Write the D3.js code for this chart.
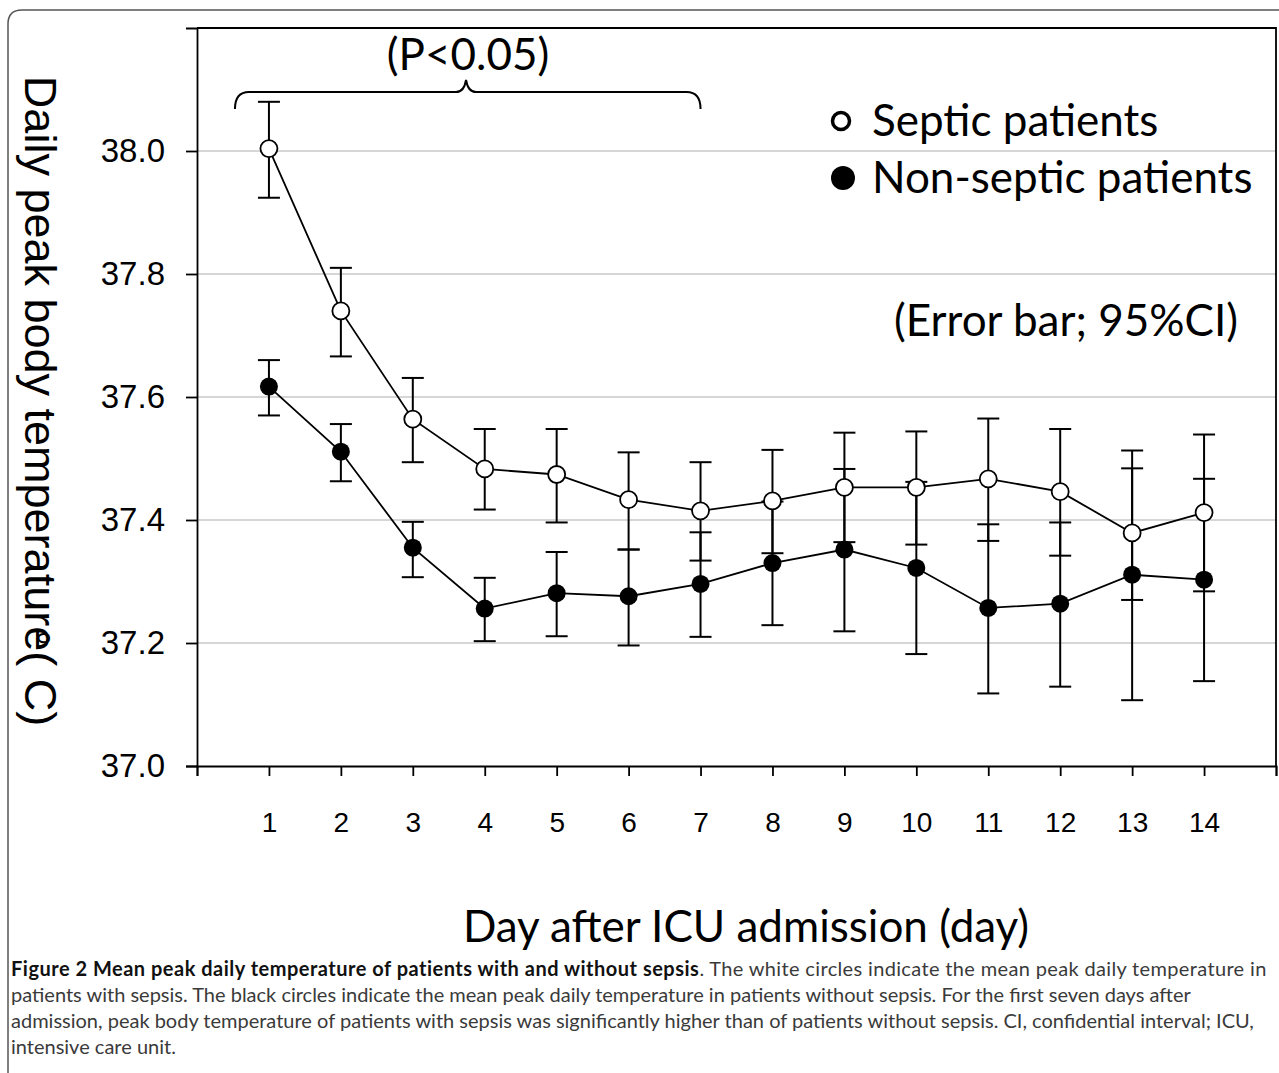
<!DOCTYPE html>
<html>
<head>
<meta charset="utf-8">
<script src="https://cdn.jsdelivr.net/npm/d3@7"></script>
<style>
  body { margin: 0; background: #fff; }
  svg { display: block; }
</style>
</head>
<body>
<svg width="1279" height="1073"></svg>
<script>
// data
var days = [1, 2, 3, 4, 5, 6, 7, 8, 9, 10, 11, 12, 13, 14];

var septicMean = [38.004, 37.740, 37.564, 37.483, 37.474, 37.433, 37.415, 37.431, 37.453, 37.453, 37.467, 37.446, 37.379, 37.412];
var septicLow  = [37.924, 37.666, 37.494, 37.417, 37.396, 37.352, 37.334, 37.346, 37.364, 37.360, 37.366, 37.342, 37.270, 37.284];
var septicHigh = [38.080, 37.810, 37.631, 37.548, 37.548, 37.510, 37.494, 37.514, 37.542, 37.544, 37.565, 37.548, 37.484, 37.539];

var nonMean = [37.617, 37.511, 37.355, 37.256, 37.281, 37.276, 37.296, 37.330, 37.352, 37.322, 37.257, 37.264, 37.311, 37.303];
var nonLow  = [37.570, 37.463, 37.307, 37.203, 37.211, 37.196, 37.210, 37.229, 37.219, 37.182, 37.118, 37.129, 37.107, 37.138];
var nonHigh = [37.660, 37.556, 37.397, 37.306, 37.348, 37.352, 37.380, 37.430, 37.483, 37.462, 37.393, 37.396, 37.513, 37.467];

var yTicks = [37.0, 37.2, 37.4, 37.6, 37.8, 38.0];
var xTicks = d3.range(0, 16);

var svg = d3.select("svg"),
    margin = {top: 28, right: 3, bottom: 307, left: 197},
    width = +svg.attr("width") - margin.left - margin.right,
    height = +svg.attr("height") - margin.top - margin.bottom,
    g = svg.append("g").attr("transform", "translate(" + margin.left + "," + margin.top + ")");

var x = d3.scaleLinear().domain([0, 15]).range([0, width]),
    y = d3.scaleLinear().domain([37.0, 38.2]).range([height, 0]);

var tickFont = "'Liberation Sans', Arial, sans-serif",
    textFont = "Lato, 'Open Sans', sans-serif";

// outer figure frame (rounded corner top-left)
svg.append("path")
    .attr("d", "M8,1073 L8,24 Q8,10 22,10 L1279,10")
    .attr("fill", "none")
    .attr("stroke", "#555")
    .attr("stroke-width", 1.5);

// gridlines
g.selectAll(".grid")
    .data(yTicks.filter(d => d > 37))
    .join("line")
    .attr("class", "grid")
    .attr("x1", 0)
    .attr("x2", width)
    .attr("y1", d => y(d))
    .attr("y2", d => y(d))
    .attr("stroke", "#c8c8c8")
    .attr("stroke-width", 1.5);

// plot area border (top + right)
g.append("path")
    .attr("d", "M0,0 H" + width + " V" + height)
    .attr("fill", "none")
    .attr("stroke", "#000")
    .attr("stroke-width", 1.8);

// axes
var yAxis = g.append("g")
    .call(d3.axisLeft(y).tickValues(yTicks).tickSize(11).tickPadding(21).tickFormat(d3.format(".1f")));
yAxis.selectAll("text")
    .style("font-family", tickFont)
    .style("font-size", "33px")
    .attr("fill", "#000");

var xAxis = g.append("g")
    .attr("transform", "translate(0," + height + ")")
    .call(d3.axisBottom(x).tickValues(xTicks).tickSize(10).tickPadding(36)
        .tickFormat(d => (d >= 1 && d <= 14) ? d : ""));
xAxis.selectAll("text")
    .style("font-family", tickFont)
    .style("font-size", "28px")
    .attr("fill", "#000");

[yAxis, xAxis].forEach(function(a) {
    a.select(".domain").attr("stroke", "#000").attr("stroke-width", 1.8);
    a.selectAll(".tick line").attr("stroke", "#000").attr("stroke-width", 1.8);
});

// build series
function rows(mean, low, high) {
    return days.map((d, i) => ({day: d, mean: mean[i], low: low[i], high: high[i]}));
}
var septic = rows(septicMean, septicLow, septicHigh),
    nonSeptic = rows(nonMean, nonLow, nonHigh);

// error bars
function errorBars(data, cls) {
    var eb = g.selectAll("." + cls)
        .data(data)
        .join("g")
        .attr("class", cls)
        .attr("stroke", "#000")
        .attr("stroke-width", 2);
    eb.append("line")
        .attr("x1", d => x(d.day)).attr("x2", d => x(d.day))
        .attr("y1", d => y(d.low)).attr("y2", d => y(d.high));
    eb.append("line")
        .attr("x1", d => x(d.day) - 11).attr("x2", d => x(d.day) + 11)
        .attr("y1", d => y(d.high)).attr("y2", d => y(d.high));
    eb.append("line")
        .attr("x1", d => x(d.day) - 11).attr("x2", d => x(d.day) + 11)
        .attr("y1", d => y(d.low)).attr("y2", d => y(d.low));
}
errorBars(nonSeptic, "ebNon");
errorBars(septic, "ebSeptic");

// lines
var line = d3.line()
    .x(d => x(d.day))
    .y(d => y(d.mean));

[nonSeptic, septic].forEach(function(data) {
    g.append("path")
        .datum(data)
        .attr("d", line)
        .attr("fill", "none")
        .attr("stroke", "#000")
        .attr("stroke-width", 1.8);
});

// markers
g.selectAll(".dotNon")
    .data(nonSeptic)
    .join("circle")
    .attr("class", "dotNon")
    .attr("cx", d => x(d.day))
    .attr("cy", d => y(d.mean))
    .attr("r", 9)
    .attr("fill", "#000");

g.selectAll(".dotSeptic")
    .data(septic)
    .join("circle")
    .attr("class", "dotSeptic")
    .attr("cx", d => x(d.day))
    .attr("cy", d => y(d.mean))
    .attr("r", 8.5)
    .attr("fill", "#fff")
    .attr("stroke", "#000")
    .attr("stroke-width", 1.8);

// significance brace over days 1-7 (svg coordinates)
var bx0 = margin.left + x(0.5) + 2,
    bx1 = margin.left + x(7),
    bmid = margin.left + x(3.74),
    by = 92, r = 14;
svg.append("path")
    .attr("d",
        "M" + bx0 + "," + (by + 17) +
        " Q" + bx0 + "," + by + " " + (bx0 + r) + "," + by +
        " H" + (bmid - 10) +
        " Q" + (bmid - 2) + "," + by + " " + bmid + "," + (by - 12) +
        " Q" + (bmid + 2) + "," + by + " " + (bmid + 10) + "," + by +
        " H" + (bx1 - r) +
        " Q" + bx1 + "," + by + " " + bx1 + "," + (by + 17))
    .attr("fill", "none")
    .attr("stroke", "#000")
    .attr("stroke-width", 2);

svg.append("text")
    .attr("x", 468)
    .attr("y", 70)
    .attr("text-anchor", "middle")
    .style("font-family", textFont)
    .style("font-size", "44px")
    .text("(P<0.05)");

// legend
var legend = svg.append("g");
legend.append("circle")
    .attr("cx", 841).attr("cy", 121).attr("r", 8.5)
    .attr("fill", "#fff").attr("stroke", "#000").attr("stroke-width", 3.5);
legend.append("circle")
    .attr("cx", 843).attr("cy", 178).attr("r", 12)
    .attr("fill", "#000");
legend.append("text")
    .attr("x", 872).attr("y", 136)
    .style("font-family", textFont).style("font-size", "44px")
    .text("Septic patients");
legend.append("text")
    .attr("x", 872).attr("y", 193)
    .style("font-family", textFont).style("font-size", "44px")
    .text("Non-septic patients");

svg.append("text")
    .attr("x", 1238).attr("y", 336)
    .attr("text-anchor", "end")
    .style("font-family", textFont).style("font-size", "44px")
    .text("(Error bar; 95%CI)");

// axis titles
svg.append("text")
    .attr("transform", "translate(25,401) rotate(90)")
    .attr("text-anchor", "middle")
    .style("font-family", tickFont)
    .style("font-size", "45px")
    .text("Daily peak body temperature( C)");
svg.append("text")
    .attr("transform", "translate(38,638) rotate(90)")
    .attr("text-anchor", "middle")
    .style("font-family", tickFont)
    .style("font-size", "22px")
    .text("o");

svg.append("text")
    .attr("x", 746).attr("y", 942)
    .attr("text-anchor", "middle")
    .style("font-family", textFont)
    .style("font-size", "44px")
    .text("Day after ICU admission (day)");

// caption
var caption = [
    "patients with sepsis. The black circles indicate the mean peak daily temperature in patients without sepsis. For the first seven days after",
    "admission, peak body temperature of patients with sepsis was significantly higher than of patients without sepsis. CI, confidential interval; ICU,",
    "intensive care unit."
];
var cap = svg.append("g")
    .style("font-family", textFont)
    .style("font-size", "20px")
    .attr("fill", "#3a3a3a");
var first = cap.append("text").attr("x", 11).attr("y", 976);
first.append("tspan").attr("font-weight", "bold").attr("fill", "#111")
    .style("letter-spacing", "0.5px")
    .text("Figure 2 Mean peak daily temperature of patients with and without sepsis");
first.append("tspan").style("letter-spacing", "0.35px")
    .text(". The white circles indicate the mean peak daily temperature in");
cap.selectAll(".capline")
    .data(caption)
    .join("text")
    .attr("class", "capline")
    .attr("x", 11)
    .attr("y", (d, i) => 1002 + i * 26)
    .text(d => d);
</script>
</body>
</html>
